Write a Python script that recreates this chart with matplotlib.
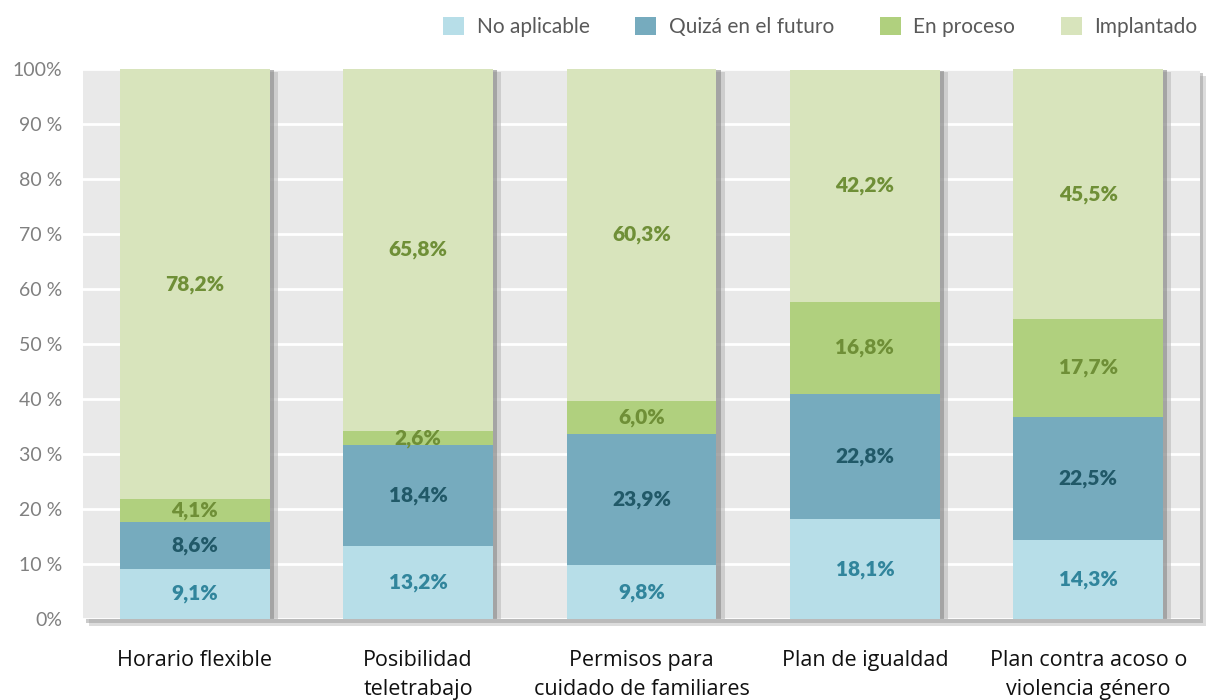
import matplotlib
matplotlib.use("Agg")
import matplotlib.pyplot as plt
import matplotlib.patheffects as pe
from matplotlib.patches import Patch
import numpy as np

categories = ["Horario flexible", "Posibilidad\nteletrabajo", "Permisos para\ncuidado de familiares",
              "Plan de igualdad", "Plan contra acoso o\nviolencia género"]
series_names = ["No aplicable", "Quizá en el futuro", "En proceso", "Implantado"]
no_aplicable = [9.1, 13.2, 9.8, 18.1, 14.3]
quiza = [8.6, 18.4, 23.9, 22.8, 22.5]
en_proceso = [4.1, 2.6, 6.0, 16.8, 17.7]
implantado = [78.2, 65.8, 60.3, 42.2, 45.5]
y_ticks = [0, 10, 20, 30, 40, 50, 60, 70, 80, 90, 100]
y_tick_labels = ["0%", "10 %", "20 %", "30 %", "40 %", "50 %", "60 %", "70 %", "80 %", "90 %", "100%"]

colors = ["#b7dee8", "#76abbe", "#b0d07e", "#d8e4bc"]
text_colors = ["#31859c", "#215968", "#6f8f37", "#6f8f37"]

fig = plt.figure(figsize=(12.08, 7.0), dpi=100)
ax = fig.add_axes([0.0687, 0.1157, 0.9247, 0.7857])
ax.set_facecolor("#e9e9e9")
ax.patch.set_path_effects([
    pe.SimplePatchShadow(offset=(4, -5), shadow_rgbFace="#bbbbbb", alpha=0.5),
    pe.SimplePatchShadow(offset=(2, -3), shadow_rgbFace="#999999", alpha=0.5),
    pe.Normal()])

x = np.arange(len(categories))
width = 0.67
series = [no_aplicable, quiza, en_proceso, implantado]
totals = np.sum(series, axis=0)

# shadow of whole bar only
sh = ax.bar(x, totals, width, color="#888888", zorder=2)
for b in sh:
    b.set_path_effects([
        pe.SimplePatchShadow(offset=(6, -2), shadow_rgbFace="#bbbbbb", alpha=0.6),
        pe.SimplePatchShadow(offset=(3, -1), shadow_rgbFace="#8a8a8a", alpha=0.6)])

bottom = np.zeros(len(categories))
for vals, col, tcol in zip(series, colors, text_colors):
    vals = np.array(vals)
    ax.bar(x, vals, width, bottom=bottom, color=col, zorder=3)
    for xi, v, b0 in zip(x, vals, bottom):
        ax.text(xi, b0 + v / 2, f"{v:.1f}%".replace(".", ","), ha="center", va="center",
                color=tcol, fontsize=15, fontweight="heavy", family="Lato", zorder=5)
    bottom += vals

ax.set_xlim(-0.5, 4.5)
ax.set_ylim(0, 100)
ax.set_yticks(y_ticks)
ax.set_yticklabels(y_tick_labels, color="#808080", fontsize=14, family="Lato")
ax.set_xticks(x)
ax.set_xticklabels(categories, fontsize=15.5, family="Open Sans", color="#111111", linespacing=1.5)
ax.tick_params(axis="both", length=0)
ax.tick_params(axis="x", pad=22)
ax.tick_params(axis="y", pad=15)
ax.grid(axis="y", color="white", linewidth=2, zorder=1)
ax.set_axisbelow(True)
for s in ax.spines.values():
    s.set_visible(False)

handles = [Patch(facecolor=c, edgecolor="none") for c in colors]
fig.legend(handles, series_names, loc="upper right", bbox_to_anchor=(0.998, 0.988), ncol=4, frameon=False,
           handlelength=1.0, handleheight=1.0, columnspacing=2.2, handletextpad=0.6, borderpad=0.2,
           borderaxespad=0.2, prop={"family": "Lato", "size": 15}, labelcolor="#595959")

fig.savefig("out.png", dpi=100)
